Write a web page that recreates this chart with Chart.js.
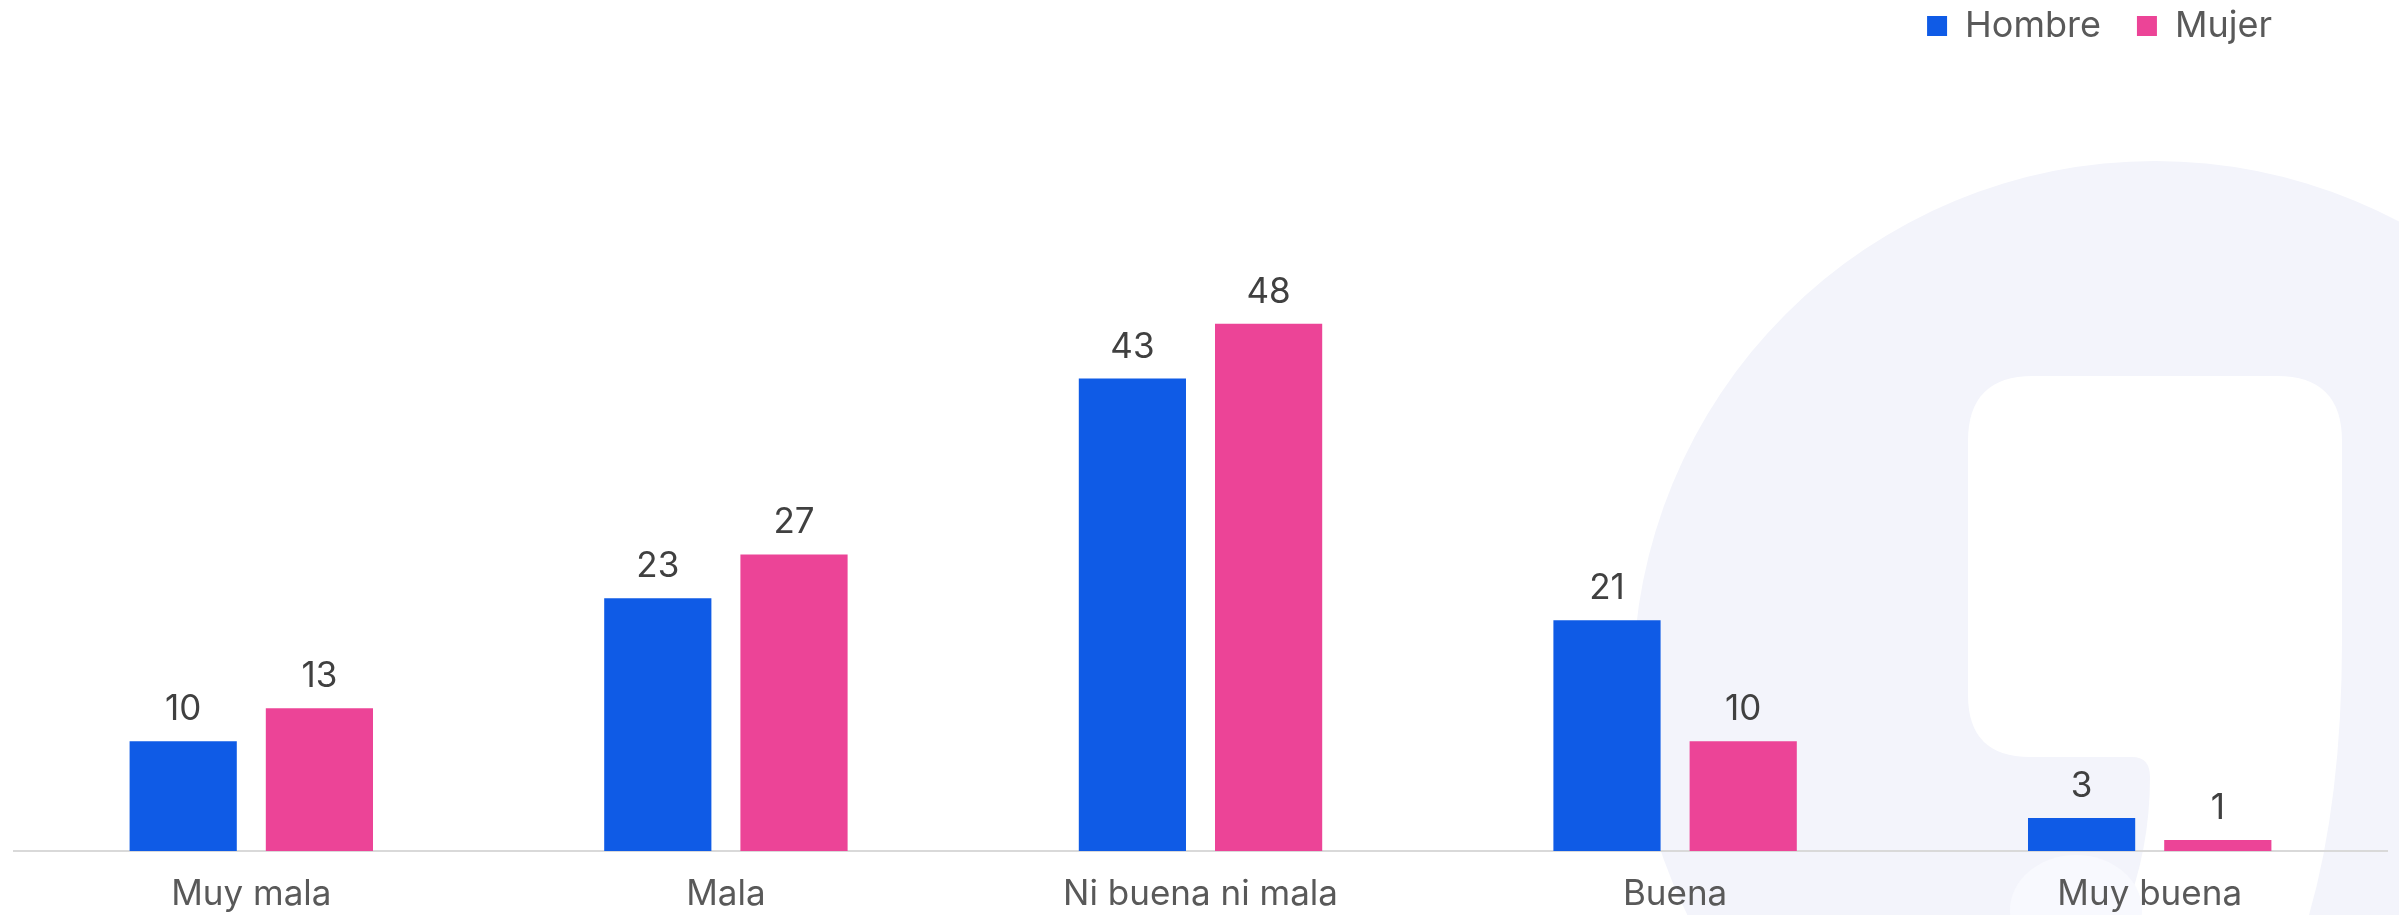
<!DOCTYPE html>
<html>
<head>
<meta charset="utf-8">
<script src="https://cdn.jsdelivr.net/npm/chart.js@4/dist/chart.umd.min.js"></script>
<style>
  html, body { margin: 0; padding: 0; background: #ffffff; }
  #wrap { position: relative; width: 2399px; height: 915px; }
</style>
</head>
<body>
<div id="wrap"><canvas id="chart"></canvas></div>
<script>
// data
const categories = ['Muy mala', 'Mala', 'Ni buena ni mala', 'Buena', 'Muy buena'];
const hombre = [10, 23, 43, 21, 3];
const mujer = [13, 27, 48, 10, 1];
const seriesNames = ['Hombre', 'Mujer'];

const BLUE = '#0f5be6';
const PINK = '#ec4497';
const FONT = 'Inter, "Noto Sans", sans-serif';

// light logo drawn behind the bars
const watermark = {
    id: 'watermark',
    beforeDraw(chart) {
        const ctx = chart.ctx;
        ctx.save();
        ctx.fillStyle = '#f3f4fb';
        ctx.beginPath();
        ctx.arc(2155, 683, 522, 0, Math.PI * 2);
        ctx.fill();

        // white counter inside the circle
        ctx.fillStyle = '#ffffff';
        ctx.beginPath();
        ctx.moveTo(2033, 376);
        ctx.lineTo(2277, 376);
        ctx.quadraticCurveTo(2342, 376, 2342, 441);
        ctx.lineTo(2342, 640);
        ctx.quadraticCurveTo(2342, 800, 2309, 915);
        ctx.lineTo(2124, 915);
        ctx.quadraticCurveTo(2150, 850, 2150, 777);
        ctx.quadraticCurveTo(2150, 757, 2132, 757);
        ctx.lineTo(2030, 757);
        ctx.quadraticCurveTo(1968, 757, 1968, 695);
        ctx.lineTo(1968, 441);
        ctx.quadraticCurveTo(1968, 376, 2033, 376);
        ctx.closePath();
        ctx.fill();

        ctx.fillStyle = '#f8f9fe';
        ctx.beginPath();
        ctx.ellipse(2076, 910, 66, 55, 0, 0, Math.PI * 2);
        ctx.fill();
        ctx.restore();
    }
};

// values above the bars
const barValues = {
    id: 'barValues',
    afterDatasetsDraw(chart) {
        const ctx = chart.ctx;
        ctx.save();
        ctx.font = '400 35px ' + FONT;
        ctx.fillStyle = '#404040';
        ctx.textAlign = 'center';
        ctx.textBaseline = 'alphabetic';
        chart.data.datasets.forEach((ds, i) => {
            chart.getDatasetMeta(i).data.forEach((bar, j) => {
                ctx.fillText(ds.data[j], bar.x, bar.y - 21);
            });
        });
        ctx.restore();
    }
};

// move the legend to where the reference has it
const legendPlace = {
    id: 'legendPlace',
    afterLayout(chart) {
        const lg = chart.legend;
        const dx = lg.right - 2308;
        const dy = lg.top + lg.options.labels.padding + 18 - 26;
        lg.left -= dx; lg.right -= dx;
        lg.top -= dy; lg.bottom -= dy;
    }
};

const ctx = document.getElementById('chart').getContext('2d');
new Chart(ctx, {
    type: 'bar',
    data: {
        labels: categories,
        datasets: [
            { label: seriesNames[0], data: hombre, backgroundColor: BLUE },
            { label: seriesNames[1], data: mujer, backgroundColor: PINK }
        ]
    },
    options: {
        responsive: true,
        maintainAspectRatio: false,
        animation: false,
        layout: { padding: { left: 14, right: 12, top: 0, bottom: -22 } },
        datasets: {
            bar: { categoryPercentage: 0.574, barPercentage: 0.787 }
        },
        plugins: {
            legend: {
                position: 'top',
                align: 'end',
                labels: {
                    boxWidth: 20,
                    boxHeight: 20,
                    padding: 36,
                    color: '#595959',
                    font: { family: FONT, size: 36 }
                }
            },
            tooltip: { enabled: false }
        },
        scales: {
            x: {
                grid: { display: false, drawTicks: false },
                border: { display: true, color: '#d9d9d9', width: 2 },
                ticks: {
                    padding: 22,
                    color: '#595959',
                    font: { family: FONT, size: 35 }
                }
            },
            y: {
                display: false,
                min: 0,
                max: 70
            }
        }
    },
    plugins: [watermark, barValues, legendPlace]
});
</script>
</body>
</html>
